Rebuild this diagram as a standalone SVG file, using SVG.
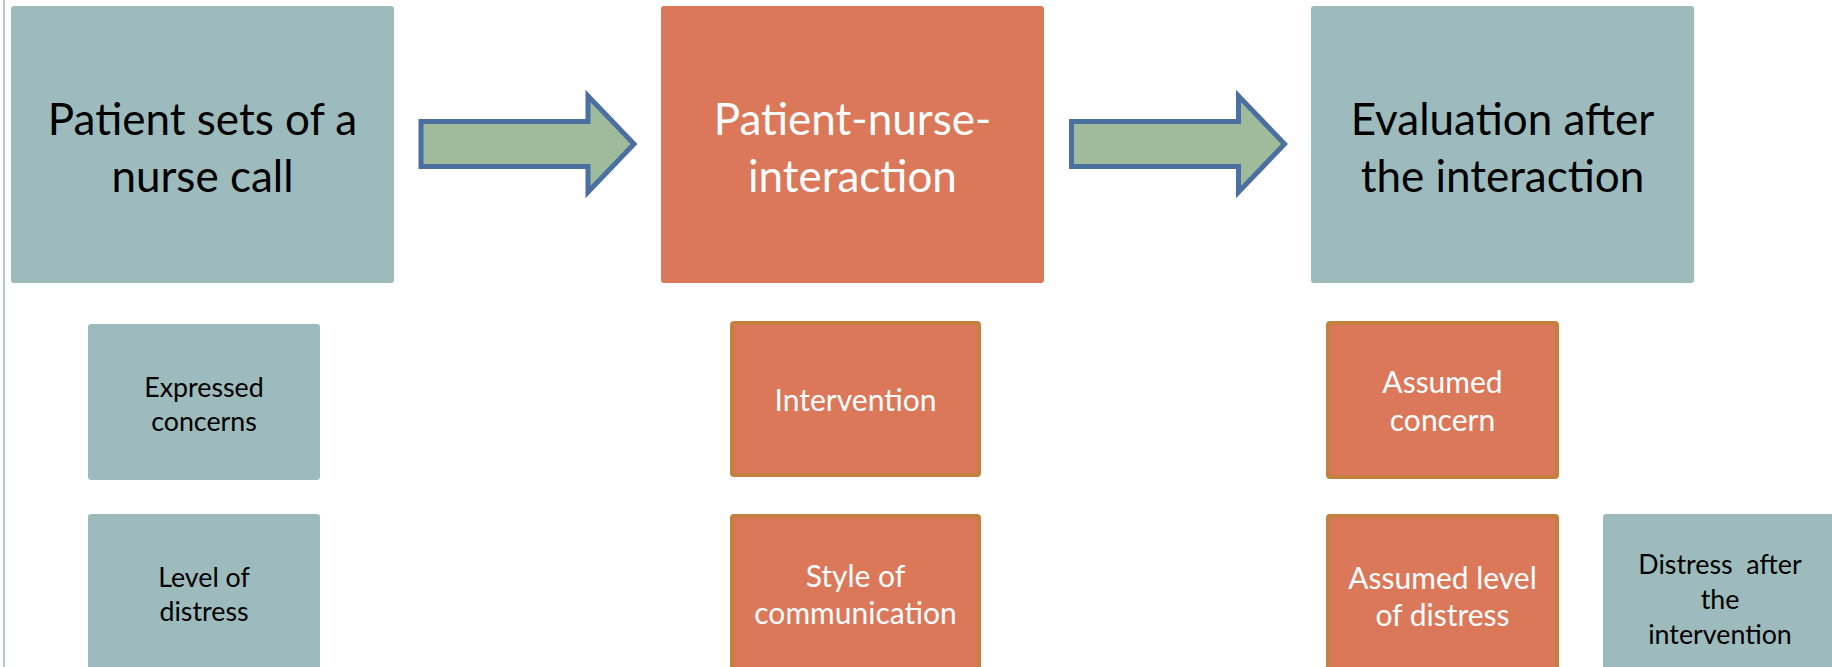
<svg xmlns="http://www.w3.org/2000/svg" width="1832" height="667" viewBox="0 0 1832 667">
  <style>
    .teal { fill: #9dbbbd; }
    .coral { fill: #dc785a; }
    .coral-b { fill: #dc785a; stroke: #c4803f; stroke-width: 4; }
    .big { font-family: Lato, "Noto Sans", sans-serif; font-size: 44px; text-anchor: middle; }
    .mid { font-family: Lato, "Noto Sans", sans-serif; font-size: 30px; text-anchor: middle; }
    .small { font-family: Lato, "Noto Sans", sans-serif; font-size: 26.8px; text-anchor: middle; }
    .dark { fill: #000000; }
    .light { fill: #ffffff; }
    .flow { fill: #9fbb9b; stroke: #4a6fa0; stroke-width: 5; stroke-linejoin: miter; }
  </style>

  <rect width="1832" height="667" fill="#ffffff"/>
  <!-- page margin rule -->
  <line x1="4" y1="0" x2="4" y2="667" stroke="#9fb8bb" stroke-width="1.5"/>

  <!-- stage 1 -->
  <g id="stage-call">
    <rect class="teal" x="11" y="6" width="383" height="277" rx="3"/>
    <text class="big dark" x="202.5" y="135">Patient sets of a</text>
    <text class="big dark" x="202.5" y="192">nurse call</text>
  </g>

  <!-- stage 2 -->
  <g id="stage-interaction">
    <rect class="coral" x="661" y="6" width="383" height="277" rx="3"/>
    <text class="big light" x="852.5" y="135">Patient-nurse-</text>
    <text class="big light" x="852.5" y="192">interaction</text>
  </g>

  <!-- stage 3 -->
  <g id="stage-evaluation">
    <rect class="teal" x="1311" y="6" width="383" height="277" rx="3"/>
    <text class="big dark" x="1502.5" y="135">Evaluation after</text>
    <text class="big dark" x="1502.5" y="192">the interaction</text>
  </g>

  <!-- details under stage 1 -->
  <g id="expressed-concerns">
    <rect class="teal" x="88" y="324" width="232" height="156" rx="3"/>
    <text class="small dark" x="204" y="397">Expressed</text>
    <text class="small dark" x="204" y="431">concerns</text>
  </g>
  <g id="level-of-distress">
    <rect class="teal" x="88" y="514" width="232" height="170" rx="3"/>
    <text class="small dark" x="204" y="587">Level of</text>
    <text class="small dark" x="204" y="621">distress</text>
  </g>

  <!-- details under stage 2 -->
  <g id="intervention">
    <rect class="coral-b" x="732" y="323" width="247" height="152" rx="2"/>
    <text class="mid light" x="855.5" y="411">Intervention</text>
  </g>
  <g id="style-of-communication">
    <rect class="coral-b" x="732" y="516" width="247" height="170" rx="2"/>
    <text class="mid light" x="855.5" y="587">Style of</text>
    <text class="mid light" x="855.5" y="624">communication</text>
  </g>

  <!-- details under stage 3 -->
  <g id="assumed-concern">
    <rect class="coral-b" x="1328" y="323" width="229" height="154" rx="2"/>
    <text class="mid light" x="1442.5" y="393">Assumed</text>
    <text class="mid light" x="1442.5" y="431">concern</text>
  </g>
  <g id="assumed-level-of-distress">
    <rect class="coral-b" x="1328" y="516" width="229" height="170" rx="2"/>
    <text class="mid light" x="1442.5" y="589">Assumed level</text>
    <text class="mid light" x="1442.5" y="626">of distress</text>
  </g>
  <g id="distress-after-intervention">
    <rect class="teal" x="1603" y="514" width="240" height="170" rx="3"/>
    <text class="small dark" x="1720" y="574" xml:space="preserve">Distress  after</text>
    <text class="small dark" x="1720" y="609">the</text>
    <text class="small dark" x="1720" y="644">intervention</text>
  </g>

  <!-- block arrows between stages -->
  <g id="connectors">
    <polygon class="flow" points="421,121.5 588,121.5 588,96 634,144 588,192 588,166.5 421,166.5"/>
    <polygon class="flow" points="1071.5,121.5 1238.5,121.5 1238.5,96 1284.5,144 1238.5,192 1238.5,166.5 1071.5,166.5"/>
  </g>
</svg>
